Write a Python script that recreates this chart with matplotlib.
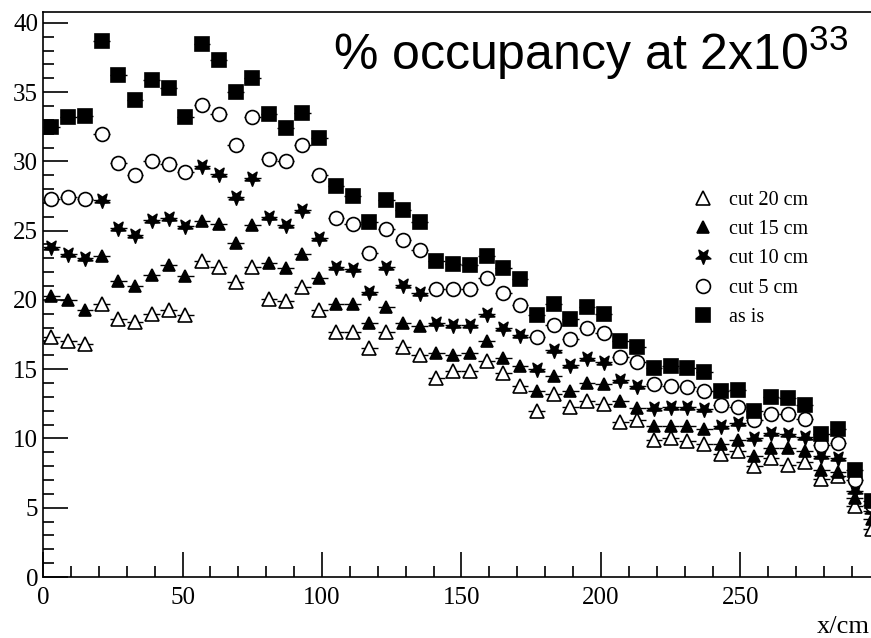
import numpy as np
import matplotlib
matplotlib.use('Agg')
import matplotlib.pyplot as plt
from matplotlib.path import Path
from matplotlib.ticker import MultipleLocator

plt.rcParams['mathtext.fontset'] = 'custom'
plt.rcParams['mathtext.rm'] = 'Liberation Sans'

# bin centres (6 cm bins)
x_cm = np.arange(3, 300, 6)

# % occupancy per bin
as_is = [32.5, 33.2, 33.3, 38.7, 36.2, 34.4, 35.9, 35.3, 33.2, 38.5,
         37.3, 35.0, 36.0, 33.4, 32.4, 33.5, 31.7, 28.2, 27.5, 25.6,
         27.2, 26.5, 25.6, 22.8, 22.6, 22.5, 23.2, 22.3, 21.5, 18.9,
         19.7, 18.6, 19.5, 19.0, 17.0, 16.6, 15.1, 15.2, 15.1, 14.8,
         13.4, 13.5, 12.0, 13.0, 12.9, 12.4, 10.3, 10.7, 7.7, 5.5]
cut_5 = [27.3, 27.4, 27.3, 32.0, 29.9, 29.0, 30.0, 29.8, 29.2, 34.1,
         33.4, 31.2, 33.2, 30.2, 30.0, 31.2, 29.0, 25.9, 25.5, 23.4,
         25.1, 24.3, 23.6, 20.8, 20.8, 20.8, 21.6, 20.5, 19.6, 17.3,
         18.2, 17.2, 18.0, 17.6, 15.9, 15.5, 13.9, 13.8, 13.7, 13.4,
         12.4, 12.3, 11.3, 11.8, 11.8, 11.4, 9.5, 9.7, 7.0, 5.2]
cut_10 = [23.8, 23.3, 23.0, 27.2, 25.2, 24.7, 25.8, 25.9, 25.3, 29.7,
          29.1, 27.4, 28.8, 26.0, 25.4, 26.5, 24.5, 22.4, 22.2, 20.6,
          22.4, 21.1, 20.5, 18.3, 18.2, 18.2, 19.0, 18.0, 17.5, 15.0,
          16.4, 15.3, 15.8, 15.5, 14.2, 13.8, 12.2, 12.3, 12.3, 12.1,
          10.9, 11.1, 10.0, 10.4, 10.3, 10.1, 8.7, 8.6, 6.2, 4.8]
cut_15 = [20.3, 20.0, 19.3, 23.2, 21.4, 21.0, 21.8, 22.5, 21.7, 25.7,
          25.5, 24.1, 25.4, 22.7, 22.3, 23.3, 21.6, 19.7, 19.7, 18.3,
          19.5, 18.3, 18.1, 16.2, 16.0, 16.2, 17.0, 15.8, 15.2, 13.4,
          14.5, 13.4, 14.0, 13.9, 12.7, 12.2, 10.9, 10.9, 10.9, 10.7,
          9.6, 9.9, 8.7, 9.3, 9.3, 9.1, 7.7, 7.6, 5.7, 4.2]
cut_20 = [17.3, 17.0, 16.8, 19.7, 18.6, 18.4, 19.0, 19.3, 18.9, 22.8,
          22.4, 21.3, 22.4, 20.1, 19.9, 20.9, 19.3, 17.7, 17.7, 16.5,
          17.7, 16.6, 16.0, 14.4, 14.9, 14.9, 15.6, 14.7, 13.8, 12.0,
          13.2, 12.3, 12.7, 12.5, 11.2, 11.3, 9.9, 10.0, 9.8, 9.6,
          8.9, 9.1, 8.0, 8.6, 8.1, 8.3, 7.1, 7.3, 5.1, 3.5]

# upside-down five point star (ROOT-ish look)
star = Path.unit_regular_star(5, 0.42)
star_down = Path(star.vertices * [1, -1], star.codes)

series = [
    ('cut 20 cm', cut_20, '^', 'white', 10),
    ('cut 15 cm', cut_15, '^', 'black', 9),
    ('cut 10 cm', cut_10, star_down, 'black', 11),
    ('cut 5 cm', cut_5, 'o', 'white', 10),
    ('as is', as_is, 's', 'black', 9.5),
]

fig = plt.figure(figsize=(8.71, 6.38), dpi=100)
ax = fig.add_axes([0.0494, 0.0956, 0.9506, 0.886])

for label, vals, mk, fc, ms in series:
    ax.errorbar(x_cm, vals, xerr=3, fmt='none', ecolor='black', elinewidth=1.0)
    ax.plot(x_cm, vals, linestyle='none', marker=mk, markersize=ms,
            markerfacecolor=fc, markeredgecolor='black', markeredgewidth=1.2,
            label=label)

ax.set_xlim(0, 296.8)
ax.set_ylim(0, 40.8)
ax.xaxis.set_major_locator(MultipleLocator(50))
ax.xaxis.set_minor_locator(MultipleLocator(10))
ax.yaxis.set_major_locator(MultipleLocator(5))
ax.yaxis.set_minor_locator(MultipleLocator(1))
ax.tick_params(which='both', direction='in', top=False, right=False, width=1.2)
ax.tick_params(which='major', length=18, labelsize=18)
ax.tick_params(which='minor', length=8)
ax.tick_params(axis='x', pad=7)
ax.tick_params(axis='y', pad=3.5)
for lab in ax.get_xticklabels() + ax.get_yticklabels():
    lab.set_family('Liberation Serif')
for side in ['left', 'bottom', 'top']:
    ax.spines[side].set_linewidth(1.2)
ax.spines['right'].set_visible(False)

ax.text(104, 37.8, '% occupancy at 2x10$^{33}$', fontsize=36,
        family='Liberation Sans', va='center', ha='left')

fig.text(0.999, 1 - 627 / 638, 'x/cm', fontsize=19, family='Liberation Serif',
         ha='right', va='center')

leg = ax.legend(loc='upper left', bbox_to_anchor=(693 / 871, 1 - 191 / 638),
                bbox_transform=fig.transFigure, frameon=False,
                prop={'family': 'Liberation Serif', 'size': 14.5},
                handlelength=1.0, handletextpad=0.8, labelspacing=0.5,
                borderpad=0, borderaxespad=0)

plt.savefig('out.png', dpi=100)
